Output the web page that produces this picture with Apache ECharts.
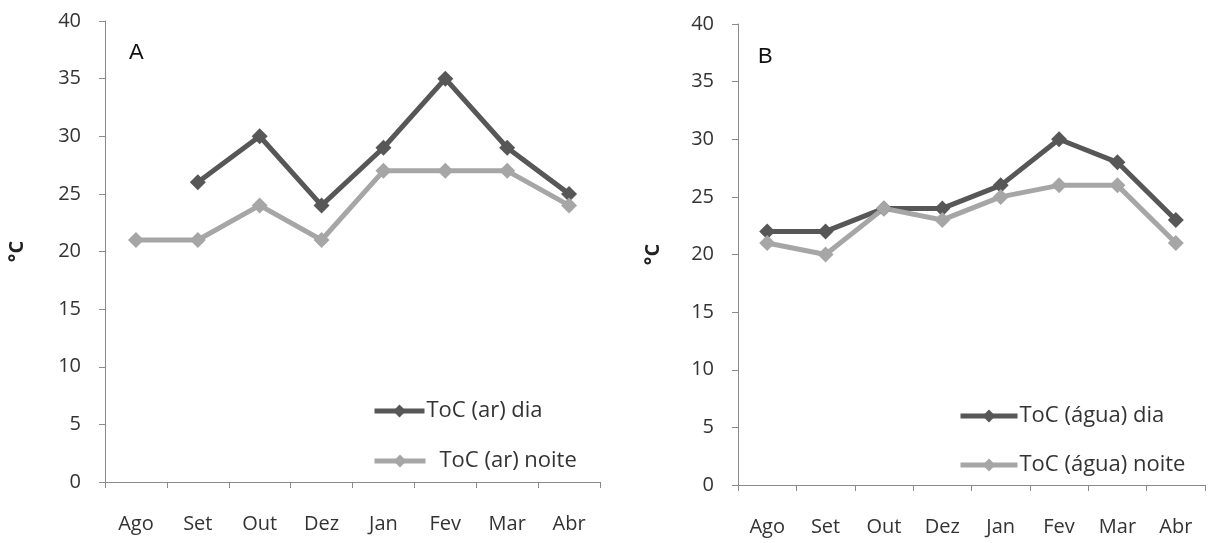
<!DOCTYPE html>
<html>
<head>
<meta charset="utf-8">
<script src="https://cdn.jsdelivr.net/npm/echarts@6/dist/echarts.min.js"></script>
<style>
html,body{margin:0;padding:0;background:#fff;}
#c{width:1209px;height:543px;}
</style>
</head>
<body>
<div id="c"></div>
<script>
var months = ['Ago','Set','Out','Dez','Jan','Fev','Mar','Abr'];
var yTicks = [0,5,10,15,20,25,30,35,40];
var arDia = [null,26,30,24,29,35,29,25];
var arNoite = [21,21,24,21,27,27,27,24];
var aguaDia = [22,22,24,24,26,30,28,23];
var aguaNoite = [21,20,24,23,25,26,26,21];
var namesA = ['ToC (ar) dia','ToC (ar) noite'];
var namesB = ['ToC (água) dia','ToC (água) noite'];
var panelLabels = ['A','B'];

var DARK = '#575757', LIGHT = '#a6a6a6', AXIS = '#8a8a8a', TXT = '#333333';
var FONT = 'Open Sans';

function xAx(i){
  return {type:'category', gridIndex:i, data:months, boundaryGap:true,
    axisLine:{lineStyle:{color:AXIS,width:1}},
    axisTick:{show:true, inside:false, length:6, alignWithLabel:false, lineStyle:{color:AXIS}},
    axisLabel:{color:TXT, fontFamily:FONT, fontSize:20, margin:32},
    splitLine:{show:false}};
}
function yAx(i, gap){
  return {type:'value', gridIndex:i, min:0, max:40, interval:5,
    name:'°C', nameLocation:'middle', nameRotate:90, nameGap:gap,
    nameTextStyle:{fontFamily:FONT, fontSize:20, fontWeight:'bold', color:'#222'},
    axisLine:{show:true, lineStyle:{color:AXIS,width:1}},
    axisTick:{show:true, length:6, lineStyle:{color:AXIS}},
    axisLabel:{color:TXT, fontFamily:FONT, fontSize:20, margin:24},
    splitLine:{show:false}};
}
function ser(name, data, i, color){
  return {name:name, type:'line', xAxisIndex:i, yAxisIndex:i, data:data,
    symbol:'diamond', symbolSize:16, showSymbol:true,
    lineStyle:{color:color, width:5}, itemStyle:{color:color},
    emphasis:{disabled:true},
    connectNulls:false, animation:false};
}
function leg(name, left, top, w, pad){
  return {data:[name], orient:'vertical', left:left, top:top, padding:0,
    itemWidth:w, itemHeight:16,
    lineStyle:{width:5},
    textStyle:{fontFamily:FONT, fontSize:22, color:TXT, padding:[0,0,0,pad]}};
}

var chart = echarts.init(document.getElementById('c'));
chart.setOption({
  backgroundColor:'#fff',
  animation:false,
  grid:[
    {left:105, right:609, top:21, bottom:61},
    {left:738, right:4, top:24, bottom:58}
  ],
  xAxis:[xAx(0), xAx(1)],
  yAxis:[yAx(0, 78), yAx(1, 75)],
  legend:[
    leg(namesA[0], 372, 400, 50, -3),
    leg(namesA[1], 372, 450, 51, 9),
    leg(namesB[0], 958, 405, 57, -3),
    leg(namesB[1], 958, 454, 57, -3)
  ],
  graphic:[
    {type:'text', left:129, top:42, style:{text:panelLabels[0], font:'22px "Liberation Sans"', fill:'#111'}},
    {type:'text', left:758, top:46, style:{text:panelLabels[1], font:'22px "Liberation Sans"', fill:'#111'}}
  ],
  series:[
    ser(namesA[0], arDia, 0, DARK),
    ser(namesA[1], arNoite, 0, LIGHT),
    ser(namesB[0], aguaDia, 1, DARK),
    ser(namesB[1], aguaNoite, 1, LIGHT)
  ]
});
</script>
</body>
</html>
